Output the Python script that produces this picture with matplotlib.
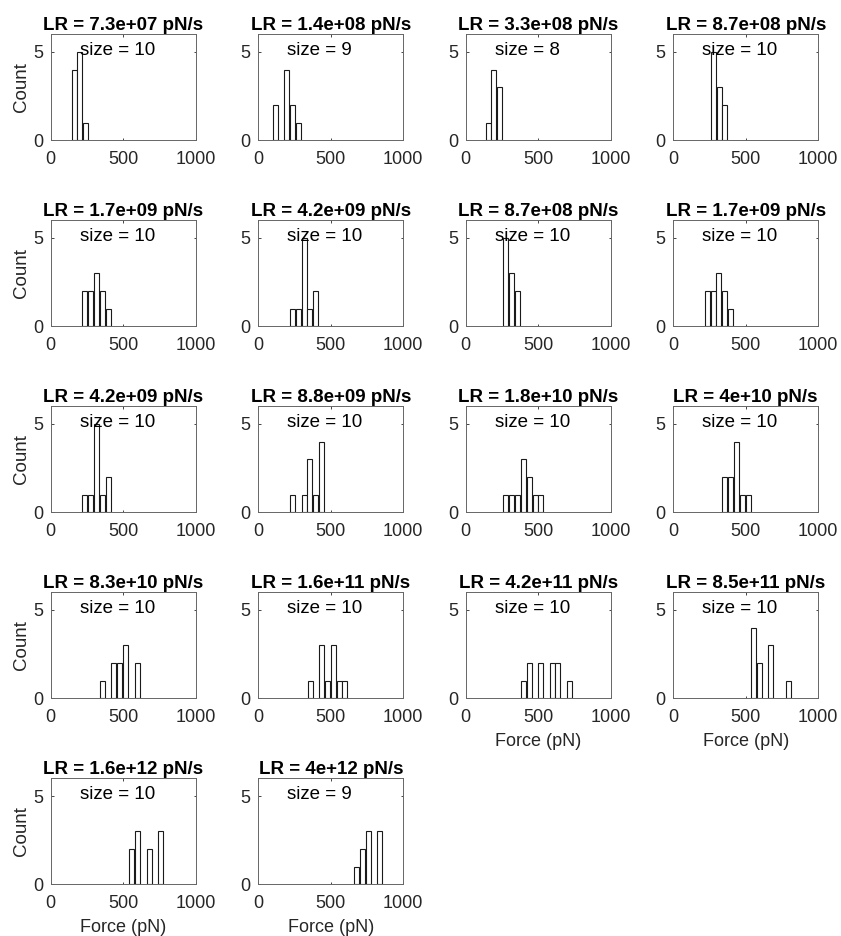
import matplotlib
matplotlib.use("Agg")
import matplotlib.pyplot as plt

# loading rates (pN/s) and number of rupture events per panel
loading_rates = [7.3e7, 1.4e8, 3.3e8, 8.7e8,
                 1.7e9, 4.2e9, 8.7e8, 1.7e9,
                 4.2e9, 8.8e9, 1.8e10, 4e10,
                 8.3e10, 1.6e11, 4.2e11, 8.5e11,
                 1.6e12, 4e12]
sample_sizes = [10, 9, 8, 10,
                10, 10, 10, 10,
                10, 10, 10, 10,
                10, 10, 10, 10,
                10, 9]

# histogram bin centres (pN) and counts
bin_centers = [
    [162, 198, 238],
    [120, 197, 236, 275],
    [157, 195, 236],
    [277, 316, 355],
    [236, 276, 316, 356, 395],
    [238, 277, 316, 356, 396],
    [277, 316, 355],
    [237, 277, 315, 354, 393],
    [236, 277, 316, 357, 397],
    [238, 316, 355, 396, 437],
    [277, 316, 355, 397, 438, 479, 518],
    [355, 394, 436, 477, 516],
    [357, 436, 477, 518, 599],
    [357, 437, 477, 516, 557, 597],
    [397, 437, 517, 597, 636, 716],
    [553, 594, 672, 794],
    [560, 599, 679, 755],
    [679, 718, 758, 834],
]
bin_counts = [
    [4, 5, 1],
    [2, 4, 2, 1],
    [1, 4, 3],
    [5, 3, 2],
    [2, 2, 3, 2, 1],
    [1, 1, 5, 1, 2],
    [5, 3, 2],
    [2, 2, 3, 2, 1],
    [1, 1, 5, 1, 2],
    [1, 1, 3, 1, 4],
    [1, 1, 1, 3, 2, 1, 1],
    [2, 2, 4, 1, 1],
    [1, 2, 2, 3, 2],
    [1, 3, 1, 3, 1, 1],
    [1, 2, 2, 2, 2, 1],
    [4, 2, 3, 1],
    [2, 3, 2, 3],
    [1, 2, 3, 3],
]

bar_width = 34.5
n_rows, n_cols = 5, 4

plt.rcParams['font.family'] = ['Liberation Sans', 'DejaVu Sans']

fig, axes = plt.subplots(n_rows, n_cols, figsize=(8.41, 9.36), dpi=100)
fig.subplots_adjust(left=0.0603, right=0.973, top=0.9634, bottom=0.0552,
                    wspace=0.43, hspace=0.755)
axes = axes.flatten()

for k, ax in enumerate(axes):
    if k >= len(loading_rates):
        ax.axis('off')
        continue

    ax.bar(bin_centers[k], bin_counts[k], width=bar_width, color='white',
           edgecolor='#1a1a1a', linewidth=0.8)
    ax.set_xlim(0, 1000)
    ax.set_ylim(0, 6)
    ax.set_xticks([0, 500, 1000])
    ax.set_yticks([0, 5])
    ax.tick_params(direction='in', length=1.8, width=0.6, top=True, right=True,
                   labelsize=13, colors='#262626')
    ax.tick_params(axis='x', pad=8)
    ax.tick_params(axis='y', pad=5.5)
    for s in ax.spines.values():
        s.set_color('#666666')
        s.set_linewidth(0.7)

    ax.set_title('LR = %.2g pN/s' % loading_rates[k], fontsize=13.5,
                 fontweight='bold', pad=3)
    ax.text(200, 5.1, 'size = %d' % sample_sizes[k], fontsize=13.5,
            ha='left', va='center')

    if k % n_cols == 0:
        ax.set_ylabel('Count', fontsize=13.5, color='#262626', labelpad=2)
    # last panel of each column carries the x label
    if k + n_cols >= len(loading_rates):
        ax.set_xlabel('Force (pN)', fontsize=13, color='#262626', labelpad=5)

fig.savefig('out.png', dpi=100, facecolor='white')
